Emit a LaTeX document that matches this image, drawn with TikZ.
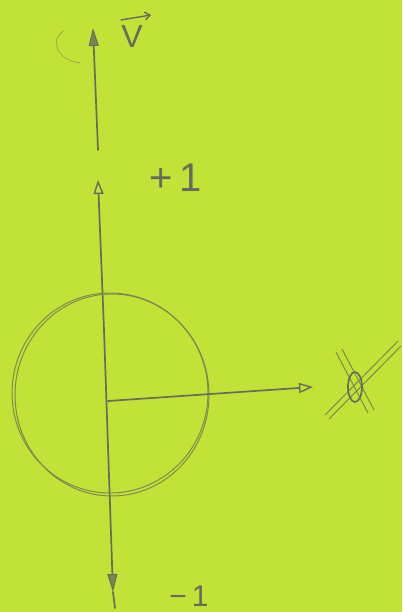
\documentclass[tikz,border=0pt]{standalone}
\usepackage{fontspec}
\setmainfont{Liberation Sans}
\usetikzlibrary{arrows.meta,calc}
\definecolor{paper}{RGB}{193,226,54}
\definecolor{pencil}{RGB}{104,108,92}
\definecolor{faint}{RGB}{150,165,90}
\begin{document}
\begin{tikzpicture}[x=1pt,y=-1pt,
  pen/.style={draw=pencil,line width=1.7pt,line cap=round},
  thin pen/.style={draw=pencil!75!paper,line width=1pt},
  openhead/.style={-{Triangle[open,length=14pt,width=10pt,line width=1.4pt]}},
  fillhead/.style={-{Triangle[length=18pt,width=10pt,fill=pencil!80!paper,line width=1pt]}},
  lbl/.style={text=pencil,inner sep=0pt}]
\fill[paper] (0,0) rectangle (402,612);
\useasboundingbox (0,0) rectangle (402,612);
% top velocity arrow
\coordinate (vb) at (98,150);
\coordinate (vt) at (93,28);
\draw[pen,fillhead] (vb) -- (vt);
\draw[faint,line width=0.7pt] (64,31) .. controls (50,38) and (55,60) .. (80,63);
\node[lbl,font=\fontsize{32}{34}\selectfont] (vlab) at (132,36) {V};
\coordinate (va) at (121,20);
\coordinate (vb2) at (151,15);
\draw[pen,line width=1.4pt,-{Straight Barb[length=5pt,width=8pt]}] (va) -- (vb2);
% vertical axis
\coordinate (ytop) at (98,180);
\coordinate (ybot) at (113,592);
\coordinate (yend) at (115,608);
\draw[pen,openhead] (104,330) -- (ytop);
\draw[pen,fillhead] (104,330) -- (ybot);
\draw[pen] (ybot) -- (yend);
\node[lbl,font=\fontsize{40}{42}\selectfont] (plus) at (176,178) {+\,1};
\node[lbl,font=\fontsize{30}{32}\selectfont,anchor=base] (minus) at (189,606) {\textminus\,1};
% circle (double pencil stroke)
\coordinate (c) at (110,393);
\draw[thin pen] (c) circle[x radius=98,y radius=100];
\draw[thin pen] ($(c)+(2,2)$) circle[x radius=97,y radius=101];
% horizontal arrow
\coordinate (h0) at (108,401);
\coordinate (h1) at (313,387);
\draw[pen,openhead] (h0) -- (h1);
% crossed symbol
\coordinate (x0) at (355,387);
\draw[thin pen] (325,415) -- (398,341);
\draw[thin pen] (329,419) -- (401,346);
\draw[thin pen] (336,352) -- (368,413);
\draw[thin pen] (342,349) -- (374,410);
\draw[pen] (x0) ellipse[x radius=7,y radius=15];
\end{tikzpicture}
\end{document}
